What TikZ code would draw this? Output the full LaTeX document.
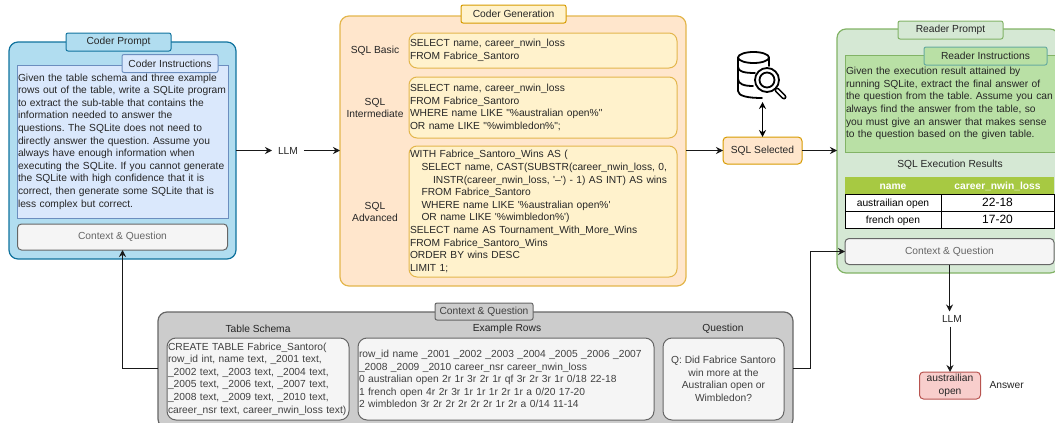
\documentclass[tikz,border=0pt]{standalone}
\usepackage{fontspec}
\setmainfont{Liberation Sans}
\usetikzlibrary{arrows.meta, positioning}
\newcommand{\labelfont}{\fontsize{10.25}{12.6}\selectfont\frenchspacing}
\tikzset{%
	box/.style={draw, rectangle, inner sep=0pt, outer sep=0pt, line width=1pt, text=black!85, font=\labelfont},
	outerblue/.style={box, rounded corners=9pt, fill=blue0, draw=blue1, line width=1.2pt},
	outerorange/.style={box, rounded corners=9pt, fill=orange0, draw=yellow1, line width=1.2pt},
	outergreen/.style={box, rounded corners=9pt, fill=green0, draw=green1, line width=1.2pt},
	outergray/.style={box, rounded corners=9pt, fill=gray!40, draw=gray1, line width=1.2pt},
	tabbox/.style={box, rounded corners=2pt, minimum width=105pt, minimum height=18pt},
	prompt/.style={box, align=left, text width=#1, inner xsep=1pt},
	sqlbox/.style={prompt=266pt, rounded corners=8pt, fill=yellow0, draw=yellow1},
	contextbox/.style={box, rounded corners=4pt, fill=gray0, draw=gray1, text=gray1, minimum width=210pt, minimum height=26pt},
	inputbox/.style={box, rounded corners=9pt, fill=gray0, draw=gray1, text=black!75, minimum height=82pt},
	plain/.style={inner sep=0pt, outer sep=0pt, align=center, text=black!85, font=\labelfont},
	llmlabel/.style={plain, outer xsep=6pt, outer ysep=4pt},
	tablehead/.style={box, draw=none, fill=tablegreen, text=white, font=\labelfont\bfseries, minimum height=17pt, text height=9pt, text depth=1pt},
	tablecell/.style={box, draw=black, fill=white, text=black, minimum height=17pt, text height=9pt, text depth=1pt},
	link/.style={->, line width=1pt, black!90},
	>={Stealth[length=7pt, width=7pt]}
}
\definecolor{blue0}{HTML}{B1DDF0}
\definecolor{blue1}{HTML}{10739E}
\definecolor{blue2}{HTML}{DAE8FC}
\definecolor{blue3}{HTML}{6C8EBF}
\definecolor{orange0}{HTML}{FFE6CC}
\definecolor{orange1}{HTML}{D79B00}
\definecolor{yellow0}{HTML}{FFF2CC}
\definecolor{yellow1}{HTML}{E3B64C}
\definecolor{green0}{HTML}{D5E8D4}
\definecolor{green1}{HTML}{82B366}
\definecolor{green2}{HTML}{B9E0A5}
\definecolor{teal1}{HTML}{67AB9F}
\definecolor{tablegreen}{HTML}{A7C942}
\definecolor{gray0}{HTML}{F5F5F5}
\definecolor{gray1}{HTML}{666666}
\definecolor{red0}{HTML}{F8CECC}
\definecolor{red1}{HTML}{B85450}
\begin{document}
\begin{tikzpicture}[x=1pt, y=-1pt]
	\useasboundingbox (0,0) rectangle (1055,423);

	% coder prompt
	\node[outerblue, minimum width=227pt, minimum height=217pt] (coder) at (122.5,150.5) {};
	\node[tabbox, fill=blue0, draw=blue1] (codertab) at (118.5,42) {Coder Prompt};
	\node[prompt=209pt, minimum height=153pt, fill=blue2, draw=blue3] (coderinstr) at (122.5,141.5) {Given the table schema and three example\\rows out of the table, write a SQLite program\\to extract the sub-table that contains the\\information needed to answer the\\questions. The SQLite does not need to\\directly answer the question. Assume you\\always have enough information when\\executing the SQLite. If you cannot generate\\the SQLite with high confidence that it is\\correct, then generate some SQLite that is\\less complex but correct.\\[4pt]};
	\node[tabbox, fill=blue2, draw=blue3, minimum width=96pt] (coderinstrtab) at (170,63.5) {Coder Instructions};
	\node[contextbox] (codercontext) at (122.5,237) {Context \& Question};
	\node[llmlabel, right=36pt of coder] (llma) {LLM};

	% coder generation
	\node[outerorange, minimum width=346pt, minimum height=270pt] (generation) at (513,151) {};
	\node[tabbox, fill=yellow0, draw=orange1] (generationtab) at (513.5,14) {Coder Generation};
	\node[sqlbox, minimum height=35pt] (sqlbasic) at (543,50.5) {SELECT name, career\_nwin\_loss\\FROM Fabrice\_Santoro};
	\node[sqlbox, minimum height=61pt] (sqlinter) at (543,107.5) {SELECT name, career\_nwin\_loss\\FROM Fabrice\_Santoro\\WHERE name LIKE \textquotedbl\%australian open\%\textquotedbl\\OR name LIKE \textquotedbl\%wimbledon\%\textquotedbl;};
	\node[sqlbox, minimum height=131pt] (sqladv) at (543,211.5) {WITH Fabrice\_Santoro\_Wins AS (\\\hspace*{11.5pt}SELECT name, CAST(SUBSTR(career\_nwin\_loss, 0,\\\hspace*{23pt}INSTR(career\_nwin\_loss, \textquotesingle –\textquotesingle) - 1) AS INT) AS wins\\\hspace*{11.5pt}FROM Fabrice\_Santoro\\\hspace*{11.5pt}WHERE name LIKE \textquotesingle\%australian open\%\textquotesingle\\\hspace*{11.5pt}OR name LIKE \textquotesingle\%wimbledon\%\textquotesingle)\\SELECT name AS Tournament\_With\_More\_Wins\\FROM Fabrice\_Santoro\_Wins\\ORDER BY wins DESC\\LIMIT 1;};
	\node[plain] (labelbasic) at (375,51) {SQL Basic};
	\node[plain] (labelinter) at (375,108) {SQL\\Intermediate};
	\node[plain] (labeladv) at (375,212) {SQL\\Advanced};

	% selected query and database
	\node[box, rounded corners=4pt, fill=orange0, draw=orange1, minimum width=79pt, minimum height=27pt] (selected) at (762.5,150.5) {SQL Selected};
	\coordinate (dbicon) at (762.5,102);
	\begin{scope}[line width=1.8pt, black, line cap=round, line join=round]
		\draw (753.5,57.5) ellipse (15.5pt and 5.5pt);
		\draw (769,57.5) -- (769,66);
		\draw (738,57.5) -- (738,91) .. controls (738,96) and (748,98) .. (762,98);
		\draw (738,67) .. controls (738,71.5) and (744,73) .. (755,73);
		\draw (738,79) .. controls (738,84) and (744,86) .. (753,86);
		\draw (767,80) circle (12pt);
		\draw (767,80) circle (7.5pt);
		\draw[line width=5pt] (777,90) -- (784,97);
		\draw[white, line width=1.8pt] (777,90) -- (784,97);
	\end{scope}

	% reader prompt
	\node[outergreen, minimum width=222pt, minimum height=244pt] (reader) at (948,151) {};
	\node[tabbox, fill=green0, draw=green1] (readertab) at (950.5,30) {Reader Prompt};
	\node[prompt=209pt, minimum height=97pt, fill=green2, draw=green1] (readerinstr) at (950.5,103.5) {Given the execution result attained by\\running SQLite, extract the final answer of\\the question from the table. Assume you can\\always find the answer from the table, so\\you must give an answer that makes sense\\to the question based on the given table.};
	\node[tabbox, fill=green2, draw=teal1, minimum width=123pt] (readerinstrtab) at (985.5,56) {Reader Instructions};
	\node[plain] (resultstitle) at (950,165) {SQL Execution Results};
	\node[tablehead, minimum width=96pt] (headname) at (893,185.5) {name};
	\node[tablehead, minimum width=113pt, right=0pt of headname] (headloss) {career\_nwin\_loss};
	\node[tablecell, minimum width=96pt, below=0pt of headname] (cellaus) {austrailian open};
	\node[tablecell, minimum width=113pt, font=\fontsize{12}{14}\selectfont, below=0pt of headloss] (cellausloss) {22-18};
	\node[tablecell, minimum width=96pt, below=0pt of cellaus] (cellfrench) {french open};
	\node[tablecell, minimum width=113pt, font=\fontsize{12}{14}\selectfont, below=0pt of cellausloss] (cellfrenchloss) {17-20};
	\node[contextbox, minimum width=209pt] (readercontext) at (949.5,251.5) {Context \& Question};
	\node[llmlabel] (llmb) at (952,319) {LLM};
	\node[box, rounded corners=4pt, align=center, fill=red0, draw=red1, minimum width=61pt, minimum height=27pt] (answer) at (950,385.5) {austrailian\\open};
	\node[plain, right=9pt of answer] (answerlabel) {Answer};

	% context and question
	\node[outergray, minimum width=635pt, minimum height=116pt] (context) at (475.5,370) {};
	\node[tabbox, fill=gray!40, draw=gray1, text=black!75, minimum width=98pt, minimum height=17pt] (contexttab) at (484,311.5) {Context \& Question};
	\node[plain] (titleschema) at (258,329) {Table Schema};
	\node[plain] (titlerows) at (507,329) {Example Rows};
	\node[plain] (titlequestion) at (723,329) {Question};
	\node[inputbox, align=left, text width=180pt, inner xsep=1pt] (schema) at (258,379) {CREATE TABLE Fabrice\_Santoro(\\row\_id int, name text, \_2001 text,\\\_2002 text, \_2003 text, \_2004 text,\\\_2005 text, \_2006 text, \_2007 text,\\\_2008 text, \_2009 text, \_2010 text,\\career\_nsr text, career\_nwin\_loss text)};
	\node[inputbox, align=left, text width=294pt, inner xsep=1pt] (rows) at (506,379) {row\_id name \_2001 \_2002 \_2003 \_2004 \_2005 \_2006 \_2007\\\_2008 \_2009 \_2010 career\_nsr career\_nwin\_loss\\0 australian open 2r 1r 3r 2r 1r qf 3r 2r 3r 1r 0/18 22-18\\1 french open 4r 2r 3r 1r 1r 1r 2r 1r a 0/20 17-20\\2 wimbledon 3r 2r 2r 2r 2r 2r 1r 2r a 0/14 11-14};
	\node[inputbox, align=center, minimum width=121pt] (question) at (723.5,379) {Q: Did Fabrice Santoro\\win more at the\\Australian open or\\Wimbledon?};

	\coordinate (turnleft) at (122.5,368);
	\coordinate (turnright) at (810,368);
	\draw[link] (coder.east |- llma) -- (llma);
	\draw[link] (llma) -- (generation.west |- llma);
	\draw[link] (generation.east |- selected) -- (selected);
	\draw[link] (selected) -- (reader.west |- selected);
	\draw[<->, line width=1pt, black] (dbicon) -- (selected);
	\draw[link] (turnleft -| context.west) -- (turnleft) -- (codercontext.south);
	\draw[link] (turnright -| context.east) -- (turnright) |- (readercontext.west);
	\draw[link] (readercontext.south) -- (readercontext.south |- llmb.north);
	\draw[link] (llmb.south -| answer) -- (answer);
\end{tikzpicture}
\end{document}
